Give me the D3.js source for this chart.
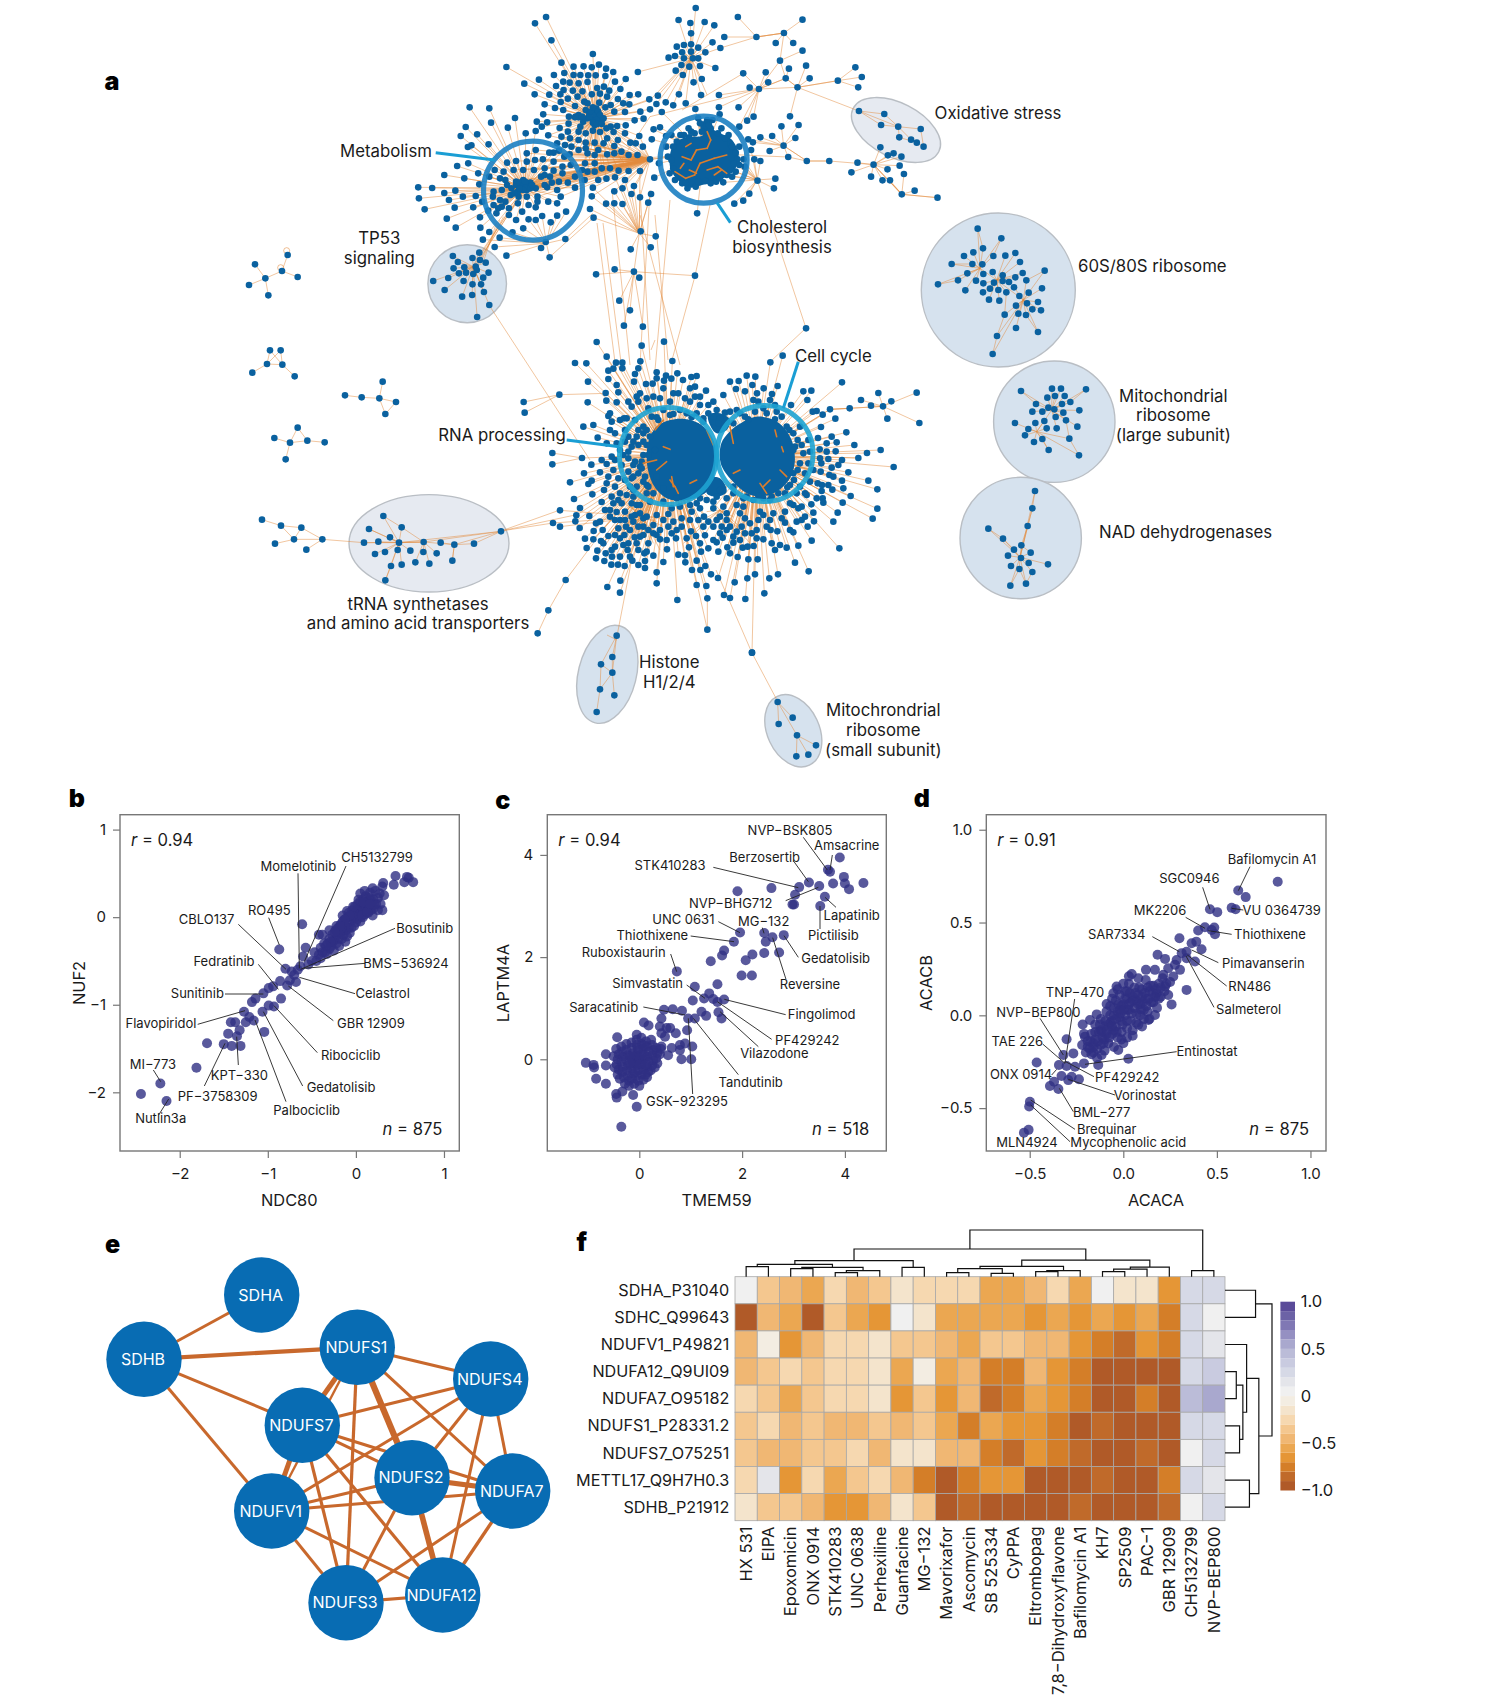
<!DOCTYPE html>
<html>
<head>
<meta charset="utf-8">
<script src="https://cdn.jsdelivr.net/npm/d3@7"></script>
<style>
body { margin: 0; background: #fff; }
text { font-family: Inter, "Noto Sans", sans-serif; fill: #1a1a1a; }
</style>
</head>
<body>
<script>
// ---- panel b values
var bNames = ["NDC80", "NUF2"];
var bTicksX = [-2, -1, 0, 1];
var bTicksY = [-2, -1, 0, 1];
var bPoints = [[-2.44,-2.02],[-2.22,-1.9],[-2.15,-2.1],[-1.81,-1.72],[-1.69,-1.44],[-1.5,-1.45],[-1.41,-1.47],[-1.31,-1.47],[-1.45,-1.33],[-1.35,-1.36],[-1.32,-1.29],[-1.42,-1.2],[-1.37,-1.2],[-1.25,-1.2],[-1.27,-1.08],[-1.21,-1.14],[-1.16,-1.18],[-1.04,-1.31],[-1.06,-1.08],[-.99,-1.01],[-.93,-1.02],[-1.18,-.97],[-1.14,-.93],[-1.05,-.87],[-.99,-.81],[-.94,-.79],[-.85,-.93],[-.86,-.73],[-.78,-.78],[-.75,-.72],[-.68,-.74],[-.8,-.59],[-.73,-.62],[-.63,-.56],[-.54,-.54],[-.57,-.35],[-.87,-.37],[-.61,-.08],[-.6,-.45],[-.7,-.66],[-.66,-.6],
[-.5,-.5],[-.47,-.4],[-.45,-.5],[-.42,-.43],[-.4,-.35],[-.4,-.47],[-.38,-.2],[-.36,-.3],[-.35,-.4],[-.33,-.42],[-.32,-.3],[-.3,-.36],[-.3,-.25],[-.28,-.33],[-.27,-.2],[-.26,-.28],[-.25,-.38],[-.24,-.25],[-.23,-.15],[-.22,-.3],[-.21,-.2],[-.2,-.25],[-.2,-.12],[-.19,-.33],[-.18,-.18],[-.17,-.08],[-.16,-.25],[-.15,-.15],[-.15,-.05],[-.14,-.2],[-.13,-.1],[-.12,-.28],[-.12,-.02],[-.11,-.15],[-.1,-.07],[-.1,-.22],[-.09,0],[-.08,-.12],[-.08,.05],[-.07,-.18],[-.06,-.05],[-.05,.02],[-.05,-.12],[-.04,.08],[-.03,-.02],[-.02,-.1],[-.02,.05],[-.01,.12],[0,0],[0,-.06],[.01,.08],[.02,-.02],[.02,.15],[.03,.03],[.04,.1],[.05,-.05],[.05,.18],[.06,.05],[.07,.12],[.08,0],[.08,.2],[.09,.08],[.1,.14],[.1,.03],[.11,.24],[.12,.1],[.13,.18],[.14,.05],[.15,.12],[.15,.22],[.16,.28],[.17,.08],[.18,.16],[.19,.02],[.2,.2],[.2,.1],[.22,.3],[.23,.15],[.25,.08],[.25,.22],[.27,.27],[.28,.15],[.3,.08],[.32,.25],[.1,.3],[.05,.27],[.19,.33],[.3,.35],[.31,.39],[.43,.37],[.45,.47],[.55,.4],[.58,.46],[.6,.45],[.65,.4],[-.1,.07],[-.15,.02],[-.22,-.1],[-.3,-.15],[-.42,-.2],[-.03,.12],[.03,.2],[.07,.02],[.12,.16],[.17,.2],[-.07,.02],[-.13,-.03],[-.18,-.1],[-.24,-.17],[-.29,-.28],[-.34,-.33],[-.38,-.4],[.13,.06],[.09,.17],[.21,.14],[.16,.15]];
var bLabels = [["CH5132799",951,232,858,258,733,545],["Momelotinib",715,260,714,280,718,565],["RO495",628,392,626,413,658,495],["CBLO137",440,419,535,433,678,568],["Bosutinib",1094,444,1005,445,722,568],["Fedratinib",492,544,595,553,655,628],["BMS−536924",1038,550,915,550,730,565],["Sunitinib",412,641,495,642,610,642],["Celastrol",968,641,885,641,718,592],["GBR 12909",933,731,820,722,685,618],["Flavopiridol",303,731,413,733,555,692],["Ribociclib",872,827,772,818,642,677],["MI−773",279,852,280,870,302,905],["KPT−330",538,885,535,855,530,770],["Gedatolisib",843,922,728,918,610,695],["PF−3758309",473,950,433,918,495,790],["Palbociclib",740,990,678,965,585,720],["Nutlin3a",302,1014,296,1005,326,957]];

// ---- panel c values
var cNames = ["TMEM59", "LAPTM4A"];
var cTicksX = [0, 2, 4];
var cTicksY = [0, 2, 4];
var cPoints = [[3.9,3.95],[3.67,3.71],[3.71,3.67],[3.98,3.57],[3.3,3.46],[3.5,3.39],[3.11,3.37],[3.77,3.44],[4,3.44],[4.08,3.33],[4.36,3.45],[2.57,3.35],[1.91,3.29],[3.03,3.22],[3.61,3.18],[2.98,3.03],[3.01,3.03],[3.52,3],[1.96,2.48],[2.43,2.47],[2.59,2.39],[2.81,2.43],[2.46,2.3],[1.84,2.3],[1.65,2.13],[1.61,2.03],[1.39,1.92],[2.07,1.94],[2.2,2.05],[2.43,2.08],[2.72,2.09],[1.99,1.64],[2.19,1.64],[.73,1.72],[1.52,1.47],[1.08,1.42],[1.36,1.29],[1.26,1.19],[1.44,1.18],[1.65,1.17],[1.52,1.12],[1.04,1.15],[1.21,.93],[1.3,.85],[1.54,.92],[1.6,.8],[.48,.97],[.65,.98],[.83,.95],[.43,.8],[.95,.8],[1.08,.8],[.09,.72],[.18,.66],[.4,.64],[.53,.61],[.6,.61],[.93,.57],[.43,.51],[.71,.51],[.5,.44],[-.43,.43],[-.05,.48],[.79,.28],[1.03,.25],[.89,.31],[.79,.18],[.56,.08],[.82,0],[1.01,0],[.63,.22],[.43,.25],[-1.04,-.07],[-.89,-.11],[-.88,-.16],[-.84,-.38],[-.65,-.12],[-.65,.1],[-.65,-.48],[-.45,-.68],[-.44,-.75],[-.33,-.63],[-.12,-.7],[-.05,-.93],[-.35,-1.32],
[-.45,.2],[-.4,.1],[-.42,0],[-.44,-.1],[-.4,-.2],[-.42,-.3],[-.38,-.38],[-.35,.25],[-.33,.15],[-.32,.05],[-.35,-.05],[-.32,-.15],[-.33,-.25],[-.3,-.35],[-.28,-.48],[-.25,.3],[-.25,.18],[-.22,.08],[-.25,-.02],[-.22,-.12],[-.24,-.22],[-.22,-.32],[-.2,-.42],[-.2,-.52],[-.15,.33],[-.15,.22],[-.12,.12],[-.15,.02],[-.12,-.08],[-.15,-.18],[-.12,-.28],[-.14,-.38],[-.1,-.48],[-.05,.38],[-.05,.28],[-.02,.18],[-.05,.08],[-.02,-.02],[-.05,-.12],[-.02,-.22],[-.05,-.32],[-.02,-.42],[0,-.52],[.04,.42],[.05,.3],[.08,.2],[.05,.1],[.08,0],[.05,-.1],[.08,-.2],[.05,-.3],[.08,-.4],[.13,.35],[.15,.25],[.18,.15],[.15,.05],[.18,-.05],[.15,-.15],[.17,-.25],[.15,-.35],[.23,.38],[.25,.28],[.27,.18],[.25,.08],[.27,-.02],[.25,-.12],[.22,-.22],[.33,.22],[.35,.12],[.33,.02],[.35,-.08],[.3,-.16],[.4,.1],[-.5,.06],[-.48,-.16],[.42,.2],[-.1,.05],[-.08,-.06],[0,.03],[.02,-.1],[-.18,.06],[-.19,-.08],[.1,.07],[.12,-.1],[-.03,.22],[.1,.27],[-.08,-.25],[.12,-.3]];
var cLabels = [["NVP−BSK805",930,152,970,172,1042,270],["Amsacrine",1100,197,1057,225,1050,270],["Berzosertib",854,231,942,245,985,305],["STK410283",570,257,700,262,955,323],["NVP−BHG712",752,371,917,362,1015,322],["Lapatinib",1115,405,1068,382,1035,352],["UNC 0631",610,419,715,425,780,458],["MG−132",851,424,847,443,852,460],["Pictilisib",1060,466,1020,447,1020,378],["Thiothixene",517,466,632,468,762,485],["Gedatolisib",1067,534,955,532,912,467],["Ruboxistaurin",431,517,572,522,590,575],["Simvastatin",503,611,620,615,675,655],["Reversine",990,614,918,598,878,473],["Saracatinib",371,681,490,681,615,705],["Fingolimod",1025,704,917,704,733,658],["PF429242",982,780,875,778,712,665],["Vilazodone",883,821,835,800,720,695],["Tandutinib",812,906,775,884,640,715],["GSK−923295",621,963,638,942,625,715]];

// ---- panel d values
var dNames = ["ACACA", "ACACB"];
var dTicksX = [-.5, 0, .5, 1];
var dTicksY = [-.5, 0, .5, 1];
var dPoints = [[.825,.72],[.614,.673],[.654,.637],[.579,.579],[.6,.572],[.463,.572],[.502,.556],[.486,.473],[.436,.475],[.4,.457],[.472,.46],[.49,.437],[.3,.415],[.39,.397],[.365,.388],[.418,.356],[.383,.29],[.338,.343],[.312,.335],[.338,.308],[.285,.298],[.183,.326],[.223,.304],[.276,.272],[.303,.245],[.338,.137],[.258,.059],[.24,.254],[.267,.209],[.214,.218],[.169,.245],[.121,.245],[.045,.223],[.223,.155],[.178,.119],[.134,-.025],[.169,.002],[-.036,.155],[-.053,.119],[-.089,.061],[-.217,-.049],[-.178,-.025],[-.142,.005],[-.303,-.129],[-.205,-.115],[-.32,-.214],[-.267,-.205],[-.463,-.254],[-.344,-.268],[-.303,-.273],[-.258,-.277],[-.21,-.259],[-.134,-.268],[-.116,-.214],[.027,-.234],[-.027,-.187],[-.33,-.327],[-.276,-.331],[-.294,-.349],[-.237,-.344],[-.37,-.358],[-.392,-.381],[-.347,-.397],[-.499,-.466],[-.503,-.491],[-.506,-.617],[-.531,-.633],
[-.2,-.2],[-.19,-.14],[-.18,-.18],[-.17,-.1],[-.16,-.2],[-.15,-.13],[-.15,-.05],[-.14,-.18],[-.13,-.09],[-.12,-.16],[-.12,-.02],[-.11,-.12],[-.1,-.06],[-.1,-.19],[-.09,.02],[-.09,-.1],[-.08,-.15],[-.07,-.04],[-.07,.05],[-.06,-.1],[-.05,0],[-.05,-.17],[-.04,.08],[-.04,-.06],[-.03,-.12],[-.02,.03],[-.02,.11],[-.01,-.03],[-.01,-.09],[0,.06],[0,-.15],[.01,.13],[.01,0],[.02,-.07],[.02,.09],[.03,.17],[.03,.03],[.04,-.03],[.05,.1],[.05,-.11],[.06,.15],[.06,.04],[.07,-.04],[.08,.11],[.08,.2],[.09,0],[.09,.06],[.1,.14],[.1,-.06],[.11,.03],[.12,.09],[.12,.19],[.13,.02],[.14,.13],[.15,.07],[.16,.16],[.17,.1],[.18,.04],[.19,.17],[.2,.1],[.21,.2],[.22,.13],[-.22,-.16],[-.21,-.1],[-.17,-.21],[-.14,-.23],[-.1,-.13],[-.06,-.03],[-.03,.02],[-.01,.05],[.02,.03],[.04,.07],[.07,.08],[.1,.1],[-.08,-.05],[-.05,-.08],[-.12,-.08],[-.16,-.15],[.13,.15],[.16,.07],[.02,.13],[-.02,-.01],
[-.19,-.17],[-.175,-.14],[-.16,-.17],[-.15,-.09],[-.135,-.14],[-.125,-.05],[-.115,-.09],[-.105,-.15],[-.095,-.03],[-.085,-.08],[-.075,-.12],[-.07,0],[-.06,-.06],[-.05,.04],[-.04,-.02],[-.035,-.09],[-.025,.06],[-.015,.01],[-.005,-.05],[.005,.03],[.01,.09],[.02,-.03],[.03,.06],[.035,.12],[.045,.01],[.055,.08],[.065,.12],[.07,.01],[.08,.06],[.085,.15],[.095,.03],[.105,.07],[.115,.12],[.125,.05],[.135,.09],[.145,.16],[.16,.12],[.175,.14],[.19,.09],[.2,.15],[.23,.17],[.24,.11],[.25,.18],[.03,.21],[.0,.17],[-.03,.14],[-.06,.09],[.14,-.02],[.11,-.02],[.08,-.05],[.05,-.08],[.02,-.12],[-.01,-.13]];
var dLabels = [["Bafilomycin A1",1116,238,1050,260,1015,332],["SGC0946",868,296,908,322,930,388],["VU 0364739",1145,390,1030,390,995,385],["MK2206",780,390,857,412,915,445],["SAR7334",650,462,757,470,838,515],["Thiothixene",1110,462,995,463,925,452],["Pimavanserin",1090,550,955,548,875,510],["RN486",1049,620,980,618,862,525],["TNP−470",525,637,524,657,495,850],["Salmeterol",1046,688,942,682,858,528],["NVP−BEP800",415,698,420,715,490,825],["TAE 226",352,785,428,792,495,850],["Entinostat",921,814,830,815,555,853],["ONX 0914",363,883,455,885,470,868],["PF429242",682,891,582,890,497,845],["Vorinostat",735,946,645,945,505,898],["BML−277",605,998,520,995,478,925],["Brequinar",620,1048,525,1048,392,960],["Mycophenolic acid",685,1088,510,1085,392,975],["MLN4924",381,1088]];

// ---- panel e values
var eNodes = [["SDHA",261.7,1295],["SDHB",144,1359.3],["NDUFS1",357.3,1347.3],["NDUFS4",490.7,1379],["NDUFS7",302.3,1425.3],["NDUFS2",412,1477.7],["NDUFA7",512.7,1491],["NDUFV1",271.7,1511],["NDUFS3",346,1602.7],["NDUFA12",442.7,1595]];
var eLinks = [["SDHA","SDHB",3],["SDHB","NDUFS1",4.2],["SDHB","NDUFS7",3],["SDHB","NDUFV1",3],["NDUFS1","NDUFS4",3],["NDUFS1","NDUFS7",5],["NDUFS1","NDUFS2",6.2],["NDUFS1","NDUFA7",3],["NDUFS1","NDUFS3",3.2],["NDUFS1","NDUFV1",2.4],["NDUFS4","NDUFS7",3.2],["NDUFS4","NDUFV1",3],["NDUFS4","NDUFS2",3],["NDUFS4","NDUFA12",3],["NDUFS4","NDUFA7",3],["NDUFS7","NDUFS2",3],["NDUFS7","NDUFA7",3],["NDUFS7","NDUFV1",5],["NDUFS7","NDUFS3",3.2],["NDUFS7","NDUFA12",3.2],["NDUFS2","NDUFA7",5],["NDUFS2","NDUFV1",3],["NDUFS2","NDUFS3",3],["NDUFS2","NDUFA12",5.6],["NDUFA7","NDUFV1",3],["NDUFA7","NDUFS3",3],["NDUFA7","NDUFA12",3.4],["NDUFV1","NDUFS3",3],["NDUFV1","NDUFA12",3],["NDUFS3","NDUFA12",3.2]];

// ---- panel f values
var heatRows = ["SDHA_P31040","SDHC_Q99643","NDUFV1_P49821","NDUFA12_Q9UI09","NDUFA7_O95182","NDUFS1_P28331.2","NDUFS7_O75251","METTL17_Q9H7H0.3","SDHB_P21912"];
var heatCols = ["HX 531","EIPA","Epoxomicin","ONX 0914","STK410283","UNC 0638","Perhexiline","Guanfacine","MG−132","Mavorixafor","Ascomycin","SB 525334","CyPPA","Eltrombopag","7,8−Dihydroxyflavone","Bafilomycin A1","KH7","SP2509","PAC−1","GBR 12909","CH5132799","NVP−BEP800"];
var heatValues = [
[.02,-.35,-.5,-.6,-.3,-.5,-.35,-.15,-.25,-.27,-.27,-.55,-.55,-.45,-.28,-.55,0,-.2,-.12,-.7,.25,.2],
[-1,-.45,-.55,-1,-.35,-.55,-.7,0,-.2,-.55,-.55,-.55,-.55,-.65,-.55,-.65,-.55,-.65,-.55,-.75,.2,.02],
[-.5,-.1,-.7,-.45,-.25,-.22,-.18,-.35,-.35,-.45,-.55,-.33,-.32,-.45,-.5,-.65,-.75,-.85,-.65,-.75,.25,.18],
[-.5,-.35,-.3,-.33,-.27,-.25,-.2,-.55,-.1,-.55,-.48,-.8,-.8,-.48,-.65,-.75,-.98,-.98,-.98,-.98,.25,.38],
[-.22,-.35,-.55,-.35,-.25,-.3,-.18,-.7,-.35,-.7,-.45,-.85,-.75,-.55,-.65,-.75,-.98,-.98,-.78,-.98,.4,.55],
[-.35,-.25,-.45,-.35,-.42,-.42,-.35,-.42,-.35,-.52,-.78,-.55,-.65,-.65,-.75,-.98,-.88,-.98,-.98,-.98,.25,.25],
[-.38,-.45,-.42,-.35,-.33,-.3,-.42,-.18,-.12,-.5,-.5,-.78,-.85,-.65,-.75,-.85,-.98,-.98,-.88,-.98,.03,.25],
[-.27,.12,-.7,-.25,-.52,-.35,-.27,-.45,-.78,-1,-.8,-.68,-.68,-1,-1,-1,-.88,-.98,-.98,-.72,.25,.1],
[-.18,-.35,-.35,-.42,-.68,-.68,-.45,-.12,-.33,-1,-.88,-1,-1,-1,-1,-.88,-1,-1,-1,-.85,.08,.25]];
var heatBands = ["#b05a28","#c06a2a","#d47e28","#e59636","#eba751","#f0b773","#f4c78f","#f6d8b0","#f4e4cc","#f3ede2","#f0f0f0","#e4e5ea","#d6d9e6","#c9cbe0","#bbbcd8","#a9a8ce","#9590c2","#8078b4","#6c62a6","#5a4b99"];
var legendTicks = [1, .5, 0, -.5, -1];
var legendText = ["1.0", "0.5", "0", "−0.5", "−1.0"];
// trees are [height, left, right], leaves are column or row numbers
var colTree = [1,[.593,[.343,[.264,[.214,0,1],[.2,[.171,2,3],[.129,[.086,4,5],6]]],[.2,7,8]],[.357,[.221,[.171,[.086,9,10],[.07,11,12]],[.129,[.107,13,14],15]],[.207,[.164,[.107,16,17],18],19]]],[.129,20,21]];
var rowTree = [1,[.65,0,1],[.72,[.46,2,[.38,[.24,3,4],[.31,5,6]]],[.52,7,8]]];

// ---- panel a network, numbers are layout units of each block
var topNodes = [[828,24],[946,51],[1127,59],[409,51],[378,70],[424,121],[780,60],[813,69],[853,66],[880,76],[815,100],[908,111],[875,127],[897,144],[998,111],[1075,99],[1052,129],[1101,129],[1127,152],[1064,182],[1089,206],[1137,197],[1080,235],[1147,235],[1031,247],[1024,217],[961,220],[979,263],[1005,267],[1113,262],[1226,242],[1275,202],[1293,231],[1283,262],[540,162],[298,201],[666,216],[883,204],[845,237],[822,247],[843,285],[893,285],[781,283],[893,322],[948,322],[895,343],[827,327],[800,310],[765,316],[722,287],[698,298],[744,307],[718,312],[700,328],[733,336],[673,335],[682,356],[657,361],[990,350],[972,362],[1092,349],[1068,379],[1116,375],[1042,408],[1107,414],[1009,412],[1074,437],[1035,453],[988,427],[975,418],[983,450],[1087,471],[992,478],[1009,483],[1139,483],[1202,483],[1281,488],[1326,494],[1264,517],[1319,530],[1351,541],[1372,541],[1365,508],[1399,497],[1411,522],[1366,466],[1382,460],[1404,470],[1345,442],[1405,583],[1441,572],[1505,593],[1001,542],[1051,536],[1047,565],[978,581],[961,602],[936,611],[832,640],[674,694],[716,709],[702,742],[646,748],[601,808],[655,815],[670,833],[614,902],[644,931],[627,977],[680,980],[549,823],[826,827],[1137,985],[408,726],[395,744],[463,717],[419,772],[298,767],[265,741],[279,713],[232,719],[225,683],[250,696],[156,683],[131,656],[69,628],[53,595],[51,562],[90,564],[124,579],[137,600],[153,623],[176,590],[155,572],[124,525],[160,498],[191,490],[180,535],[219,520],[190,441],[200,436],[184,381],[170,408],[216,403],[248,433],[195,322],[250,325],[255,368],[302,383],[322,354],[352,400],[380,393],[415,406],[377,283],[348,251],[389,239],[431,225],[452,188],[486,200],[514,199],[537,202],[557,194],[577,206],[597,216],[632,237],[643,285],[667,283],[617,267],
[460,219],[486,225],[505,225],[527,226],[548,226],[575,228],[457,245],[475,248],[500,250],[525,246],[552,264],[571,260],[602,245],[437,258],[458,270],[484,272],[511,274],[537,283],[560,281],[586,272],[418,284],[449,283],[470,296],[497,290],[580,290],[610,297],[405,313],[434,324],[450,306],[490,318],[516,305],[558,308],[590,315],[625,310],[642,313],[383,365],[401,343],[412,367],[457,330],[473,350],[492,350],[520,330],[550,326],[575,322],[600,335],[630,336],[397,380],[447,384],[472,371],[500,352],[530,342],[545,340],[558,352],[540,358],[525,355],[513,365],[545,375],[565,360],[578,385],[608,378],[632,376],[670,408],[710,388],[728,382],[452,410],[476,415],[500,395],[520,400],[540,392],[560,396],[598,396],[630,400],[440,430],[462,435],[500,420],[520,428],[545,428],[570,430],[600,438],[645,428],[680,440],[705,418],[430,458],[475,463],[500,450],[525,460],[545,465],[580,463],[600,460],[640,465],[665,465],[700,478],[725,490],[712,533],[672,513],[640,513],[612,512],[588,505],[565,505],[545,490],[518,490],[510,510],[525,515],[545,515],[555,540],[578,536],[602,532],[630,540],[655,558],[600,574],[623,565],[648,582],[672,592],[703,582],[695,608],[577,611],[600,610],[623,612],[537,589],[540,563],[517,540],[532,627],[542,653],
[355,460],[380,450],[418,458],[445,452],[300,488],[325,483],[355,485],[378,480],[400,478],[430,485],[460,470],[265,510],[290,515],[318,510],[345,510],[375,510],[405,505],[430,512],[455,500],[478,495],[222,553],[250,530],[280,535],[300,555],[325,545],[345,540],[365,548],[395,530],[420,530],[445,545],[470,548],[490,530],[212,588],[262,575],[285,570],[312,565],[335,565],[355,570],[380,565],[412,562],[440,570],[490,563],[230,605],[260,590],[280,600],[310,585],[332,590],[355,590],[385,590],[415,605],[450,590],[205,622],[247,632],[262,615],[285,620],[305,625],[330,610],[360,615],[385,605],[440,610],[465,635],[270,640],[305,645],[342,635],[380,622],[398,648],[440,647],[224,652],[325,660],[360,658],[380,660],[422,667],[345,685],[315,697],
[325,555],[335,548],[345,555],[355,560],[365,565],[345,570],[330,575],[320,580],[350,545],[370,555],[335,565],[295,540],[405,555],[425,548],[455,520],[405,525],[295,605],[275,625],
[530,350],[535,335],[548,345],[555,335],[560,345],[570,355],[550,360],[540,368],[552,372],[500,345],[490,352],[510,350],[565,372],[525,310],[540,322],[590,380],[505,380],[470,395],[580,415],[480,440],[610,420],[660,430],[620,455],[520,445],[555,450],
[765,440],[750,470],[765,505],[770,540],[790,550],[805,565],[828,560],[855,543],[885,545],[905,547],[925,510],[940,515],[965,500],[945,478],[962,478],[940,458],[925,432],[950,380],[860,360],[850,380],[835,355],[810,412],[760,405],[745,408],[808,385],[775,425],[795,405],[825,400],[870,385],[890,400],[910,415],[930,440],[935,490],[915,525],[895,535],[870,550],[835,545],[800,550],[780,520],[760,480],[865,375],[875,360],[845,395],[900,385],[920,405],[950,440],[950,495],[930,530],[745,440],[755,520],[785,405],[815,395],[840,370],
[815,133],[795,135],[775,140],[835,143],[855,157],[790,157],[770,168],[752,173],[815,155],[795,175],[820,175],[835,175],[810,200],[788,195],[772,212],[792,225],[840,198]];
var topHubs = [[548,355],[350,565],[850,460],[815,175],[1064,182],[1080,235],[1005,267],[1113,262],[1226,242],[1139,483],[1326,494],[1405,583],[1074,437],[1075,99],[998,111],[670,700],[655,815],[410,730],[1000,540]];
var topChains = [[548,355,350,565],[548,355,700,478],[350,565,700,478],[350,565,620,480],[548,355,620,480],[700,478,850,460],[620,480,850,460],[850,460,1087,471],[1087,471,1139,483],[1139,483,1202,483],[1202,483,1326,494],[1326,494,1405,583],[1405,583,1505,593],[815,175,700,300],[815,175,860,285],[700,300,548,355],[1005,267,700,350],[700,350,620,480],[1113,262,1226,242],[1113,262,1285,333],[1005,267,1113,262],[1075,99,998,111],[998,111,897,144],[1064,182,1075,99],[1064,182,1005,267],[961,220,790,330],[1080,235,1005,267],[350,565,225,760],[350,565,240,750],[350,565,215,790],[300,640,205,800],[290,650,210,810],[280,660,225,790],[270,670,235,780],[642,640,670,700],[542,653,420,770],[540,640,463,717]];
var topVeins = [[770,515,800,535],[800,535,825,525],[825,525,840,490],[840,490,880,475],[880,475,915,465],[790,470,815,480],[815,480,830,450],[830,450,860,445],[860,445,870,420],[870,420,860,395],[860,510,890,500],[890,500,915,520],[800,440,815,430],[880,525,900,510],[785,505,795,490],[810,510,830,520]];
var tp53Nodes = [[148,768],[162,786],[150,805],[180,802],[203,774],[224,780],[240,788],[222,758],[165,820],[185,818],[205,822],[248,818],[233,833],[135,834],[93,843],[178,843],[203,853],[227,853],[125,870],[235,876],[174,890],[202,885],[250,915],[216,951],[212,800],[215,810]];
var tp53Hubs = [[205,800]];
var oxidNodes = [[1285,333],[1356,342],[1347,375],[1395,380],[1458,387],[1398,412],[1431,419],[1447,428],[1466,440]];
var oxidChains = [[1285,333,1356,342],[1285,333,1395,380],[1285,333,1347,375],[1347,375,1395,380],[1395,380,1458,387],[1458,387,1466,440],[1395,380,1431,419],[1398,412,1447,428],[1431,419,1466,440],[1356,342,1395,380],[1398,412,1395,380]];

var midNodes = [[290,36],[425,47],[492,35],[517,93],[320,80],[348,98],[367,98],[225,99],[259,100],[421,94],[325,122],[340,116],[367,115],[415,115],[405,132],[325,147],[264,155],[470,127],[532,130],[498,137],[470,145],[492,152],[514,146],[549,150],[574,141],[590,138],[402,155],[438,162],[458,161],[350,165],[618,182],[690,155],[716,153],[740,137],[766,140],[757,165],[811,97],[848,77],[833,168],[791,175],[708,177],[735,184],[771,190],[816,192],[910,184],[934,182],[1026,157],[1135,189],[1083,210],[1174,214],[1250,188],[1258,279],[1162,266],[1149,229],[1113,227],[1049,235],[990,238],[938,245],[950,243],[968,254],[1006,266],[922,210],[873,225],[963,291],[954,324],[1039,307],[980,340],[1010,337],[1063,345],[1142,360],[1101,369],[1007,364],[1075,384],[1181,411],[1026,390],[985,387],[959,358],[960,385],[964,400],[962,425],[995,413],[988,435],[1045,427],[1026,452],[1105,452],[1132,478],[1030,475],[997,479],[1052,498],[965,483],[953,460],[966,465],[1028,518],[968,505],[970,518],[1132,536],[1118,566],[1013,548],[934,523],[1000,575],[940,548],[905,530],[920,495],[880,525],[870,520],[895,535],[942,574],[905,570],[890,575],[923,590],[855,578],[935,632],[880,607],[895,647],[860,653],[1018,655],[840,645],[825,660],[885,698],[926,724],[834,733],[765,733],[808,745],[742,745],[704,757],[793,790],[736,807],[690,804],[672,795],[622,805],[619,768],[590,765],[654,744],[633,733],[576,720],[601,720],[616,708],[532,810],[622,899],[756,968],[470,760],[470,727],[490,696],[435,714],[435,693],[397,692],[374,708],[354,704],[334,704],[313,693],[288,685],[361,752],[322,771],[360,788],[197,750],[145,841],[113,910],[180,541],[159,579],[180,590],[229,556],[226,574],[239,594],[255,626],[260,654],[280,628],[281,603],[303,633],[292,662],[317,670],[336,680],[360,680],[383,660],[415,660],[433,670],[460,677],[501,658],[535,674],[555,676],[556,697],[590,692],[603,665],[567,652],[573,604],[615,616],[650,637],[668,623],[640,630],[682,652],[713,681],[745,688],[773,688],[728,653],[743,650],[761,648],[700,638],[790,628],[812,600],[832,604],[770,600],[775,570],[725,590],[735,610],[690,590],[680,570],[640,590],[610,590],[588,618],[612,560],[545,565],[545,590],[520,575],[515,610],[528,625],[480,628],[480,600],[460,585],[430,590],[400,575],[378,590],[373,615],[404,622],[420,620],[445,640],[345,650],[360,625],[325,618],[308,600],[300,575],[288,580],[268,558],[305,516],[315,540],[350,546],[365,520],[395,520],[410,525],[470,555],[505,552],[600,535],[640,535],[670,530],[680,550],[730,530],[780,545],[820,550],[855,545],[250,290],[280,285],[293,323],[320,340],[330,300],[360,270],[380,265],[325,258],[335,275],[157,369],[157,403],[246,384],[274,404],[252,430],[300,427],[305,390],[320,402],[210,457],[265,462],[275,452],[320,460],[312,480],[360,490],[355,445],[222,507],[277,493],[240,534],[71,216],[74,248],[178,194],[263,217],[317,189],[319,212],[350,217],[355,187],[385,215],[410,200],[420,190],[440,205],[460,200],[490,175],[520,190],[535,190],[570,175],[585,170],[585,200],[600,200],[570,215],[640,215],[625,225],[670,195],[675,248],[640,260],[660,265],[710,240],[760,210],[775,215],[810,210],[825,225],[372,265],[330,250],
[385,320],[410,320],[395,350],[360,360],[370,375],[430,375],[425,395],[415,430],[385,425],[410,470],[435,440],[465,360],[450,320],[470,440],[460,490],[490,475],[530,505],[440,490],[400,500],[420,525],[490,240],[540,240],[590,250],[625,250],[655,280],[720,250],[790,235],[845,260],[880,310],[905,345],[910,370],[900,400],[880,430],[870,465],[835,490],[790,505],[650,500],[660,480],[620,510],[590,520],[700,490],[730,505],[345,390],[335,380],[375,450],[390,470],[355,510],[420,550],[430,565],[440,560],[415,590],[395,560],[375,545],[345,570],[360,570],[540,530],[575,545],[660,560],[650,570],[720,550],[735,565],[790,555],[800,590],[680,600],[700,620],
[405,270],[430,290],[415,345],[440,345],[430,310],[375,300],[345,310],[350,340],[455,260],[475,270],[510,255],[560,250],[610,265],[395,230],[415,215],[445,235],[480,205],[510,215],[555,205],[600,225],[650,240],[690,245],[735,260],[765,245],[830,245],[860,290],[900,290],[885,350],[925,330],[930,365],[925,400],[940,420],[915,430],[930,455],[900,470],[915,490],[890,490],[855,490],[810,510],[760,510],[710,525],[680,505],[640,515],[600,505],[570,525],[515,535],[490,515],[450,515],[400,480],[380,495],[340,520],[330,540],[395,445],[425,415],[440,465],[405,395],[385,385],[365,405],[340,420],[325,440],[345,470],[335,500],[330,560],[355,595],[375,570],[405,555],[390,600],[430,615],[460,610],[505,590],[490,570],[530,600],[570,570],[595,570],[625,575],[665,590],[660,610],[710,605],[750,580],[755,610],[810,570],[845,565],[870,600],[915,560],[950,505],[985,465],[1000,440],[1015,405],[980,365],[995,320],[445,600],[470,615],[500,630],[440,665],[410,640],[385,640],[345,615],[310,640],[335,660],[370,645],[390,680],[415,705],[560,625],[600,640],[625,655],[655,665],[690,670],[720,630],[770,625],[815,640],
[375,335],[385,365],[400,405],[420,410],[400,440],[430,455],[445,470],[430,335],[445,375],[400,335],[415,300],[440,300],[470,262],[520,252],[575,262],[610,275],[880,360],[893,330],[868,300],[893,420],[882,450],[862,472],[815,500],[775,498],[740,500],[700,470],[700,280],[745,268],[800,250],[825,268]];
var midHubs = [[505,375],[770,375]];
var midOuterHubs = [[990,238],[1149,229]];
var midChains = [[505,375,430,560],[505,375,660,540],[770,375,660,540],[770,375,830,540],[770,375,990,238],[990,238,1049,235],[1049,235,1149,229],[770,375,1075,384],[197,750,145,841],[145,841,113,910],[197,750,280,640],[178,194,320,190],[71,216,178,194],[74,248,178,194],[622,805,622,899],[430,560,180,541],[430,560,159,579],[430,560,180,590],[157,369,246,384],[157,403,246,384]];
var midHull1 = [[480,282],[540,266],[600,282],[642,335],[645,420],[628,478],[572,508],[508,508],[466,474],[444,420],[442,350],[456,308]];
var midHull2 = [[718,282],[770,260],[832,276],[874,328],[884,400],[864,454],[812,494],[750,494],[698,454],[662,400],[664,340],[688,306]];
var midHull3 = [[625,255],[660,250],[690,270],[680,300],[650,310],[630,285]];
var midHull4 = [[630,445],[660,445],[680,485],[650,500],[620,490]];
var midVeins = [[470,420,500,395],[510,450,525,470],[525,470,535,490],[490,350,510,358],[570,460,590,450],[430,400,470,390],[465,300,490,270],[520,470,515,440],[620,300,640,345],[720,420,700,430],[790,470,810,450],[830,320,825,300],[845,350,850,365],[690,290,700,340],[780,460,800,490],[840,420,860,440]];
var midWebNodes = [[345,500],[370,510],[390,530],[410,545],[430,535],[450,555],[470,575],[490,590],[380,560],[360,590],[340,605],[320,625],[300,640],[350,640],[370,625],[400,610],[420,600],[440,620],[460,640],[480,660],[510,560],[540,570],[400,650],[370,680],[620,545],[640,570],[660,590],[680,620],[700,560],[720,590],[740,620],[760,650],[590,580],[570,610],[550,640],[610,620]];
var topHull = [[850,362],[882,392],[928,418],[948,465],[938,508],[908,533],[885,548],[855,553],[810,563],[772,533],[756,500],[761,445],[788,416],[820,411],[848,405]];

var g1Nodes = [[105,133],[136,175],[87,195],[145,226],[186,153],[233,171],[203,105]];
var g1Links = [[0,1],[2,1],[3,1],[1,4],[4,5],[4,6]];
var g2Nodes = [[150,391],[182,391],[141,432],[187,434],[97,458],[224,469]];
var g2Links = [[0,2],[0,3],[1,2],[1,3],[2,3],[2,4],[3,5]];
var g3Nodes = [[488,485],[375,526],[425,532],[478,535],[528,546],[496,582]];
var g3Links = [[1,2],[2,3],[0,3],[3,4],[3,5],[4,5]];
var g4Nodes = [[233,623],[163,654],[210,668],[262,662],[314,667],[197,718]];
var g4Links = [[0,2],[0,3],[1,2],[2,3],[3,4],[2,5]];
var g5Nodes = [[126,899],[183,917],[244,923],[222,958],[165,971],[259,989],[307,958]];
var g5Links = [[0,1],[1,2],[1,3],[2,3],[2,6],[3,6],[4,3],[5,6]];
var trnaNodes = [[490,888],[545,922],[447,927],[510,952],[432,968],[475,965],[537,968],[611,966],[662,968],[703,974],[762,971],[843,934],[465,1002],[495,996],[533,990],[571,992],[610,996],[650,1000],[697,1022],[513,1038],[545,1034],[586,1027],[628,1031],[496,1081]];
var trnaHubs = [[537,968],[611,966],[703,974]];
var trnaChains = [[307,958,432,968],[843,934,611,966],[762,971,843,934],[432,968,611,966],[447,927,537,968],[545,922,611,966],[490,888,545,922],[496,1081,513,1038],[697,1022,703,974],[843,934,537,968]];

var ribo60Nodes = [[233,86],[304,115],[249,145],[220,157],[192,168],[280,168],[316,167],[346,159],[360,186],[155,192],[217,192],[247,193],[202,220],[250,222],[278,216],[308,226],[368,219],[434,212],[174,241],[228,242],[250,250],[282,248],[308,243],[327,246],[346,232],[379,241],[114,253],[196,271],[249,277],[270,266],[295,270],[319,277],[342,262],[426,265],[386,278],[358,288],[267,299],[298,302],[414,306],[348,317],[381,310],[397,328],[423,331],[314,344],[355,341],[378,345],[348,384],[414,396],[291,408],[278,462]];
var ribo60Hubs = [[290,240],[370,300],[240,205]];
var ribo60Chains = [[233,86,249,145],[304,115,280,168],[414,396,378,345],[278,462,291,408],[291,408,314,344],[314,344,319,277],[434,212,379,241],[114,253,174,241],[155,192,217,192],[240,205,290,240],[290,240,370,300]];
var riboLNodes = [[363,573],[456,566],[483,566],[558,568],[442,593],[465,588],[494,588],[408,612],[445,623],[486,612],[511,606],[538,631],[397,635],[427,635],[463,628],[490,638],[467,651],[345,669],[406,669],[433,663],[498,661],[532,680],[385,687],[440,685],[470,685],[375,706],[402,726],[427,717],[508,716],[446,750],[537,766]];
var riboLHubs = [[455,630],[410,695]];
var riboLChains = [[455,630,410,695],[508,716,537,766],[498,661,508,716],[363,573,408,612],[427,717,446,750],[558,568,511,606]];
var nadNodes = [[405,873],[397,925],[383,978],[265,986],[309,1016],[364,1036],[342,1049],[392,1058],[324,1067],[363,1074],[386,1089],[444,1093],[333,1098],[358,1107],[397,1116],[378,1151],[331,1157]];
var nadHubs = [[360,1072]];
var nadChains = [[405,873,397,925],[397,925,383,978],[383,978,364,1036],[265,986,309,1016],[309,1016,342,1049],[364,1036,392,1058],[358,1107,331,1157],[397,1116,378,1151],[358,1107,378,1151]];
var histNodes = [[170,107],[157,171],[123,193],[157,218],[120,268],[163,286],[110,336]];
var histLinks = [[0,1],[0,2],[1,3],[0,3],[2,3],[2,4],[3,4],[3,5],[4,6]];
var mitoSNodes = [[653,306],[698,353],[656,372],[711,406],[768,436],[745,464],[709,469]];
var mitoSLinks = [[0,1],[0,2],[0,3],[3,4],[3,5],[3,6]];
var bottomNodes = [[576,158]];
var longLinks = [[597,223,616,370],[603,223,622,370],[612,190,630,365],[650,190,640,365],[655,215,668,360],[640,215,680,365],[670,200,655,370],[640,190,650,360],[710,205,695,276],[695,276,672,360],[489,305,590,460],[806,328,770,362],[617,636,632,558],[752,653,716,570],[752,653,778,702],[501,531,560,510],[501,531,553,523],[501,531,575,515],[607,635,617,640],[655,340,651,350]];

var netTexts = [["Oxidative stress",934.6,113.3,"start"],["Metabolism",340,151.4,"start"],["Cholesterol",782,227,"middle"],["biosynthesis",782,246.7,"middle"],["TP53",379.3,238.3,"middle"],["signaling",379.3,258.3,"middle"],["60S/80S ribosome",1078,265.7,"start"],["Mitochondrial",1173.3,395.7,"middle"],["ribosome",1173.3,415.3,"middle"],["(large subunit)",1173.3,435,"middle"],["NAD dehydrogenases",1099,531.7,"start"],["Cell cycle",795,355.7,"start"],["RNA processing",438.3,435,"start"],["tRNA synthetases",418,604.3,"middle"],["and amino acid transporters",418,623.3,"middle"],["Histone",669.3,662.3,"middle"],["H1/2/4",669.3,682.3,"middle"],["Mitochrondrial",883.3,710,"middle"],["ribosome",883.3,730,"middle"],["(small subunit)",883.3,750,"middle"]];
var netLeaders = [[435.7,152.7,494.6,160],[717,202.7,730.4,222.7],[798.3,361.7,783.3,408.3],[566.7,440,619.3,446.7]];
var panelLetters = [["a",112,81.7],["b",76.7,798],["c",502.7,800],["d",921.7,798],["e",112.7,1244],["f",581.7,1242]];

var svg = d3.select("body").append("svg")
	.attr("width", 1500)
	.attr("height", 1708);

// crop block to page coordinates
var block = function(x0, x1, vw, y0, y1, vh){
	return {
		x: d3.scaleLinear().domain([0, vw]).range([x0, x1]),
		y: d3.scaleLinear().domain([0, vh]).range([y0, y1])
	};
};
var page = block(0, 1500, 1500, 0, 1708, 1708);
var topB = block(400, 960, 1568, 0, 340, 1020);
var midB = block(500, 950, 1350, 330, 670, 1020);
var leftB = block(220, 520, 900, 220, 660, 1320);
var rightB = block(900, 1280, 1140, 200, 620, 1260);
var lowB = block(560, 980, 1260, 600, 780, 540);

var linkColor = "#e28a3e";
var nodeColor = "#0a619f";

var regions = svg.append("g");
var linkLayer = svg.append("g").attr("stroke-opacity", 0.55);
var blobLayer = svg.append("g");
var nodeLayer = svg.append("g");
var ringLayer = svg.append("g");
var textLayer = svg.append("g");

// background patches behind the named modules
var addRegion = function(cx, cy, rx, ry, angle, fill){
	regions.append("ellipse")
		.attr("transform", "translate(" + cx + "," + cy + ") rotate(" + angle + ")")
		.attr("rx", rx)
		.attr("ry", ry)
		.attr("fill", fill)
		.attr("stroke", "#b9bec4")
		.attr("stroke-width", 1.4);
};
addRegion(896, 130, 48, 27, 27, "#e6eaf1");
addRegion(467.2, 283.7, 39.3, 39, 0, "#d6e2ee");
addRegion(998.3, 290, 77, 77, 0, "#d6e2ee");
addRegion(1054.3, 421.7, 60.7, 60.7, 0, "#d6e2ee");
addRegion(1020.7, 538, 60.7, 60.7, 0, "#d6e2ee");
addRegion(429, 543.3, 80, 48.7, 0, "#e6eaf1");
addRegion(607.3, 674.3, 29, 50, 14, "#d6e2ee");
addRegion(793.3, 730.7, 26, 38, -25, "#d6e2ee");

var addChains = function(chains, b, color, width){
	linkLayer.selectAll(null)
		.data(chains)
		.enter().append("line")
		.attr("x1", function(d){ return b.x(d[0]); })
		.attr("y1", function(d){ return b.y(d[1]); })
		.attr("x2", function(d){ return b.x(d[2]); })
		.attr("y2", function(d){ return b.y(d[3]); })
		.attr("stroke", color || linkColor)
		.attr("stroke-width", width || 0.9);
};
// every node gets one link, to the closest hub of its block
var addStars = function(nodes, hubs, b, color){
	var chains = nodes.map(function(n){
		var best = hubs[0];
		var bestD = Infinity;
		hubs.forEach(function(h){
			var dd = Math.pow(b.x(h[0]) - b.x(n[0]), 2) + Math.pow(b.y(h[1]) - b.y(n[1]), 2);
			if(dd > 0 && dd < bestD){ bestD = dd; best = h; }
		});
		return [n[0], n[1], best[0], best[1]];
	});
	addChains(chains, b, color);
};
var addPairs = function(nodes, pairs, b){
	addChains(pairs.map(function(p){ return nodes[p[0]].concat(nodes[p[1]]); }), b);
};
var addNodes = function(nodes, b, r){
	nodeLayer.selectAll(null)
		.data(nodes)
		.enter().append("circle")
		.attr("cx", function(d){ return b.x(d[0]); })
		.attr("cy", function(d){ return b.y(d[1]); })
		.attr("r", r || 3.3)
		.attr("fill", nodeColor);
};
var addBlob = function(points, b){
	var line = d3.line()
		.x(function(d){ return b.x(d[0]); })
		.y(function(d){ return b.y(d[1]); })
		.curve(d3.curveCatmullRomClosed);
	blobLayer.append("path")
		.attr("d", line(points))
		.attr("fill", nodeColor);
};
var addVeins = function(chains, b){
	ringLayer.selectAll(null)
		.data(chains)
		.enter().append("line")
		.attr("x1", function(d){ return b.x(d[0]); })
		.attr("y1", function(d){ return b.y(d[1]); })
		.attr("x2", function(d){ return b.x(d[2]); })
		.attr("y2", function(d){ return b.y(d[3]); })
		.attr("stroke", "#dc7d2c")
		.attr("stroke-width", 1.6)
		.attr("stroke-linecap", "round");
};
var isMidOuter = function(d){ return d[0] > 1040 && d[1] < 290; };

addChains(longLinks, page);
addStars(topNodes, topHubs, topB);
addChains(topChains, topB);
// the band between metabolism and cholesterol is a dense web
addStars(topNodes.filter(function(d){ return d[0] > 300 && d[0] < 690 && d[1] > 400 && d[1] < 600; }), [[700,478]], topB);
addStars(tp53Nodes, tp53Hubs, topB);
addChains(oxidChains, topB);
addStars(midNodes.filter(function(d){ return d[0] >= 200 && !isMidOuter(d); }), midHubs, midB);
addStars(midNodes.filter(isMidOuter), midOuterHubs, midB);
addChains(midChains, midB);
addStars(midWebNodes.slice(0, 24), [[430,560]], midB);
addStars(midWebNodes.slice(24), [[660,540]], midB);
addBlob(topHull, topB);
addBlob(midHull1, midB);
addBlob(midHull2, midB);
addBlob(midHull3, midB);
addBlob(midHull4, midB);
addVeins(topVeins, topB);
addVeins(midVeins, midB);
addNodes(topNodes, topB);
addNodes(tp53Nodes, topB);
addNodes(oxidNodes, topB);
addNodes(midNodes, midB);

[[g1Nodes, g1Links], [g2Nodes, g2Links], [g3Nodes, g3Links], [g4Nodes, g4Links], [g5Nodes, g5Links]].forEach(function(g){
	addPairs(g[0], g[1], leftB);
	addNodes(g[0], leftB);
});
[[200,92],[182,143]].forEach(function(c){
	linkLayer.append("circle")
		.attr("cx", leftB.x(c[0]))
		.attr("cy", leftB.y(c[1]))
		.attr("r", 3)
		.attr("fill", "none")
		.attr("stroke", linkColor);
});
addStars(trnaNodes, trnaHubs, leftB);
addChains(trnaChains, leftB);
addNodes(trnaNodes, leftB);

addStars(ribo60Nodes, ribo60Hubs, rightB);
addChains(ribo60Chains, rightB);
addNodes(ribo60Nodes, rightB);
addStars(riboLNodes, riboLHubs, rightB);
addChains(riboLChains, rightB);
addNodes(riboLNodes, rightB);
addStars(nadNodes, nadHubs, rightB);
addChains(nadChains, rightB);
addNodes(nadNodes, rightB);

addPairs(histNodes, histLinks, lowB);
addNodes(histNodes, lowB);
addPairs(mitoSNodes, mitoSLinks, lowB);
addNodes(mitoSNodes, lowB);
addNodes(bottomNodes, lowB);

// the four highlight rings
var rings = [[533, 190.7, 49.5, "#1c80c2", 5.2], [703.6, 159.7, 43.5, "#1c80c2", 5.2], [668, 456, 48.5, "#1ea3d2", 5], [765, 453.5, 48, "#1ea3d2", 5]];
ringLayer.selectAll("circle.ring")
	.data(rings)
	.enter().append("circle")
	.attr("class", "ring")
	.attr("cx", function(d){ return d[0]; })
	.attr("cy", function(d){ return d[1]; })
	.attr("r", function(d){ return d[2]; })
	.attr("fill", "none")
	.attr("stroke", function(d){ return d[3]; })
	.attr("stroke-width", function(d){ return d[4]; })
	.attr("opacity", 0.9);
ringLayer.selectAll(null)
	.data(netLeaders)
	.enter().append("line")
	.attr("x1", function(d){ return d[0]; })
	.attr("y1", function(d){ return d[1]; })
	.attr("x2", function(d){ return d[2]; })
	.attr("y2", function(d){ return d[3]; })
	.attr("stroke", "#1a9ed4")
	.attr("stroke-width", 3);

textLayer.selectAll(null)
	.data(netTexts)
	.enter().append("text")
	.attr("x", function(d){ return d[1]; })
	.attr("y", function(d){ return d[2]; })
	.attr("dy", ".35em")
	.attr("text-anchor", function(d){ return d[3]; })
	.attr("font-size", 16.8)
	.text(function(d){ return d[0]; });

textLayer.selectAll(null)
	.data(panelLetters)
	.enter().append("text")
	.attr("x", function(d){ return d[1]; })
	.attr("y", function(d){ return d[2]; })
	.attr("dy", ".35em")
	.attr("text-anchor", "middle")
	.attr("font-size", 25)
	.attr("font-weight", 900)
	.style("fill", "#000")
	.text(function(d){ return d[0]; });

// scatter panels b, c, d
var minusFormat = function(dec){
	return function(v){
		var s = dec ? Math.abs(v).toFixed(dec) : String(Math.abs(v));
		return (v < 0 ? "−" : "") + s;
	};
};
var drawScatter = function(p){
	var x = d3.scaleLinear().domain(p.xDomain).range([p.left, p.right]);
	var y = d3.scaleLinear().domain(p.yDomain).range([1151, 814.7]);
	var g = svg.append("g");

	g.selectAll("circle")
		.data(p.points)
		.enter().append("circle")
		.attr("cx", function(d){ return x(d[0]); })
		.attr("cy", function(d){ return y(d[1]); })
		.attr("r", 5)
		.attr("fill", "#2f3083")
		.attr("fill-opacity", 0.8);

	g.append("rect")
		.attr("x", p.left)
		.attr("y", 814.7)
		.attr("width", p.right - p.left)
		.attr("height", 1151 - 814.7)
		.attr("fill", "none")
		.attr("stroke", "#777")
		.attr("stroke-width", 1.4);

	var ax = g.append("g")
		.attr("transform", "translate(0,1151)")
		.call(d3.axisBottom(x).tickValues(p.xTicks).tickSize(7).tickPadding(10).tickFormat(minusFormat(p.dec)));
	var ay = g.append("g")
		.attr("transform", "translate(" + p.left + ",0)")
		.call(d3.axisLeft(y).tickValues(p.yTicks).tickSize(7).tickPadding(7).tickFormat(minusFormat(p.dec)));
	[ax, ay].forEach(function(a){
		a.select(".domain").remove();
		a.selectAll("line").attr("stroke", "#777").attr("stroke-width", 1.2);
		a.selectAll("text").attr("font-size", 15).style("font-family", "Inter, sans-serif");
	});

	g.append("text")
		.attr("x", p.xLabelAt)
		.attr("y", 1200)
		.attr("dy", ".35em")
		.attr("text-anchor", "middle")
		.attr("font-size", 16.4)
		.text(p.names[0]);
	g.append("text")
		.attr("transform", "translate(" + p.yLabelAt + ",983) rotate(-90)")
		.attr("dy", ".35em")
		.attr("text-anchor", "middle")
		.attr("font-size", 16.4)
		.text(p.names[1]);

	// r and n corner notes
	var r = g.append("text").attr("x", p.left + 11).attr("y", 840.3).attr("dy", ".35em").attr("font-size", 16.6);
	r.append("tspan").attr("font-style", "italic").text("r");
	r.append("tspan").text(" = " + p.r);
	var n = g.append("text").attr("x", p.right - 17).attr("y", 1129.3).attr("dy", ".35em").attr("text-anchor", "end").attr("font-size", 16.6);
	n.append("tspan").attr("font-style", "italic").text("n");
	n.append("tspan").text(" = " + p.n);

	var c = p.crop;
	g.selectAll(".leader")
		.data(p.labels.filter(function(d){ return d.length > 3; }))
		.enter().append("line")
		.attr("class", "leader")
		.attr("x1", function(d){ return c.x(d[3]); })
		.attr("y1", function(d){ return c.y(d[4]); })
		.attr("x2", function(d){ return c.x(d[5]); })
		.attr("y2", function(d){ return c.y(d[6]); })
		.attr("stroke", "#222")
		.attr("stroke-width", 0.9);
	g.selectAll(".lab")
		.data(p.labels)
		.enter().append("text")
		.attr("class", "lab")
		.attr("x", function(d){ return c.x(d[1]); })
		.attr("y", function(d){ return c.y(d[2]); })
		.attr("dy", ".35em")
		.attr("text-anchor", "middle")
		.attr("font-size", 13)
		.text(function(d){ return d[0]; });
};

drawScatter({points: bPoints, labels: bLabels, names: bNames, xTicks: bTicksX, yTicks: bTicksY,
	xDomain: [-2.678, 1.174], yDomain: [-2.67, 1.17], left: 120, right: 459.3, dec: 0,
	xLabelAt: 289.3, yLabelAt: 79, r: "0.94", n: "875", crop: block(60, 490, 1290, 780, 1220, 1320)});
drawScatter({points: cPoints, labels: cLabels, names: cNames, xTicks: cTicksX, yTicks: cTicksY,
	xDomain: [-1.79, 4.805], yDomain: [-1.795, 4.787], left: 547.3, right: 886.3, dec: 0,
	xLabelAt: 716.7, yLabelAt: 503.3, r: "0.94", n: "518", crop: block(480, 900, 1260, 780, 1220, 1320)});
drawScatter({points: dPoints, labels: dLabels, names: dNames, xTicks: dTicksX, yTicks: dTicksY,
	xDomain: [-.732, 1.083], yDomain: [-.731, 1.081], left: 986.3, right: 1326, dec: 1,
	xLabelAt: 1156, yLabelAt: 926, r: "0.91", n: "875", crop: block(900, 1340, 1320, 780, 1220, 1320)});

// panel e
var eById = {};
eNodes.forEach(function(n){ eById[n[0]] = n; });
var eg = svg.append("g");
eg.selectAll("line")
	.data(eLinks)
	.enter().append("line")
	.attr("x1", function(d){ return eById[d[0]][1]; })
	.attr("y1", function(d){ return eById[d[0]][2]; })
	.attr("x2", function(d){ return eById[d[1]][1]; })
	.attr("y2", function(d){ return eById[d[1]][2]; })
	.attr("stroke", "#c8682c")
	.attr("stroke-width", function(d){ return d[2]; });
eg.selectAll("circle")
	.data(eNodes)
	.enter().append("circle")
	.attr("cx", function(d){ return d[1]; })
	.attr("cy", function(d){ return d[2]; })
	.attr("r", 37.7)
	.attr("fill", "#086cb3");
eg.selectAll("text")
	.data(eNodes)
	.enter().append("text")
	.attr("x", function(d){ return d[1] - 1; })
	.attr("y", function(d){ return d[2]; })
	.attr("dy", ".35em")
	.attr("text-anchor", "middle")
	.attr("font-size", 16)
	.style("fill", "#fff")
	.text(function(d){ return d[0]; });

// panel f
var heatX = d3.scaleBand().domain(d3.range(heatCols.length)).range([735, 1225]);
var heatY = d3.scaleBand().domain(d3.range(heatRows.length)).range([1276.7, 1520.7]);
var heatColor = d3.scaleQuantize().domain([-1, 1]).range(heatBands);
var hg = svg.append("g");
heatValues.forEach(function(row, r){
	hg.selectAll(null)
		.data(row)
		.enter().append("rect")
		.attr("x", function(d, c){ return heatX(c); })
		.attr("y", heatY(r))
		.attr("width", heatX.bandwidth())
		.attr("height", heatY.bandwidth())
		.attr("fill", function(d){ return heatColor(d); })
		.attr("stroke", "#a8a8a8")
		.attr("stroke-width", 0.8);
});
hg.selectAll(".rowlab")
	.data(heatRows)
	.enter().append("text")
	.attr("class", "rowlab")
	.attr("x", 729.3)
	.attr("y", function(d, i){ return heatY(i) + heatY.bandwidth() / 2; })
	.attr("dy", ".35em")
	.attr("text-anchor", "end")
	.attr("font-size", 16.2)
	.text(function(d){ return d; });
hg.selectAll(".collab")
	.data(heatCols)
	.enter().append("text")
	.attr("class", "collab")
	.attr("transform", function(d, i){ return "translate(" + (heatX(i) + heatX.bandwidth() / 2) + ",1526.5) rotate(-90)"; })
	.attr("dy", ".35em")
	.attr("text-anchor", "end")
	.attr("font-size", 16.5)
	.text(function(d){ return d; });

// dendrograms drawn from the nested trees
var treeLayer = hg.append("g").attr("fill", "none").attr("stroke", "#111").attr("stroke-width", 1.2);
var colH = d3.scaleLinear().domain([0, 1]).range([1276.7, 1230]);
var rowH = d3.scaleLinear().domain([0, 1]).range([1225, 1272]);
var drawCol = function(t){
	if(typeof t === "number"){ return {p: heatX(t) + heatX.bandwidth() / 2, h: 0}; }
	var a = drawCol(t[1]);
	var b = drawCol(t[2]);
	treeLayer.append("path").attr("d", "M" + a.p + "," + colH(a.h) + "V" + colH(t[0]) + "H" + b.p + "V" + colH(b.h));
	return {p: (a.p + b.p) / 2, h: t[0]};
};
var drawRow = function(t){
	if(typeof t === "number"){ return {p: heatY(t) + heatY.bandwidth() / 2, h: 0}; }
	var a = drawRow(t[1]);
	var b = drawRow(t[2]);
	treeLayer.append("path").attr("d", "M" + rowH(a.h) + "," + a.p + "H" + rowH(t[0]) + "V" + b.p + "H" + rowH(b.h));
	return {p: (a.p + b.p) / 2, h: t[0]};
};
drawCol(colTree);
drawRow(rowTree);

// legend bar
var legendY = d3.scaleLinear().domain([-1, 1]).range([1490.5, 1301.7]);
var bandStep = 2 / heatBands.length;
hg.selectAll(".band")
	.data(heatBands)
	.enter().append("rect")
	.attr("class", "band")
	.attr("x", 1280.4)
	.attr("y", function(d, i){ return legendY(-1 + (i + 1) * bandStep); })
	.attr("width", 14.6)
	.attr("height", function(d, i){ return legendY(-1) - legendY(-1 + bandStep); })
	.attr("fill", function(d){ return d; });
hg.selectAll(".legtick")
	.data(legendTicks)
	.enter().append("text")
	.attr("class", "legtick")
	.attr("x", 1300.8)
	.attr("y", function(d){ return legendY(d); })
	.attr("dy", ".35em")
	.attr("font-size", 16.5)
	.text(function(d, i){ return legendText[i]; });
</script>
</body>
</html>
